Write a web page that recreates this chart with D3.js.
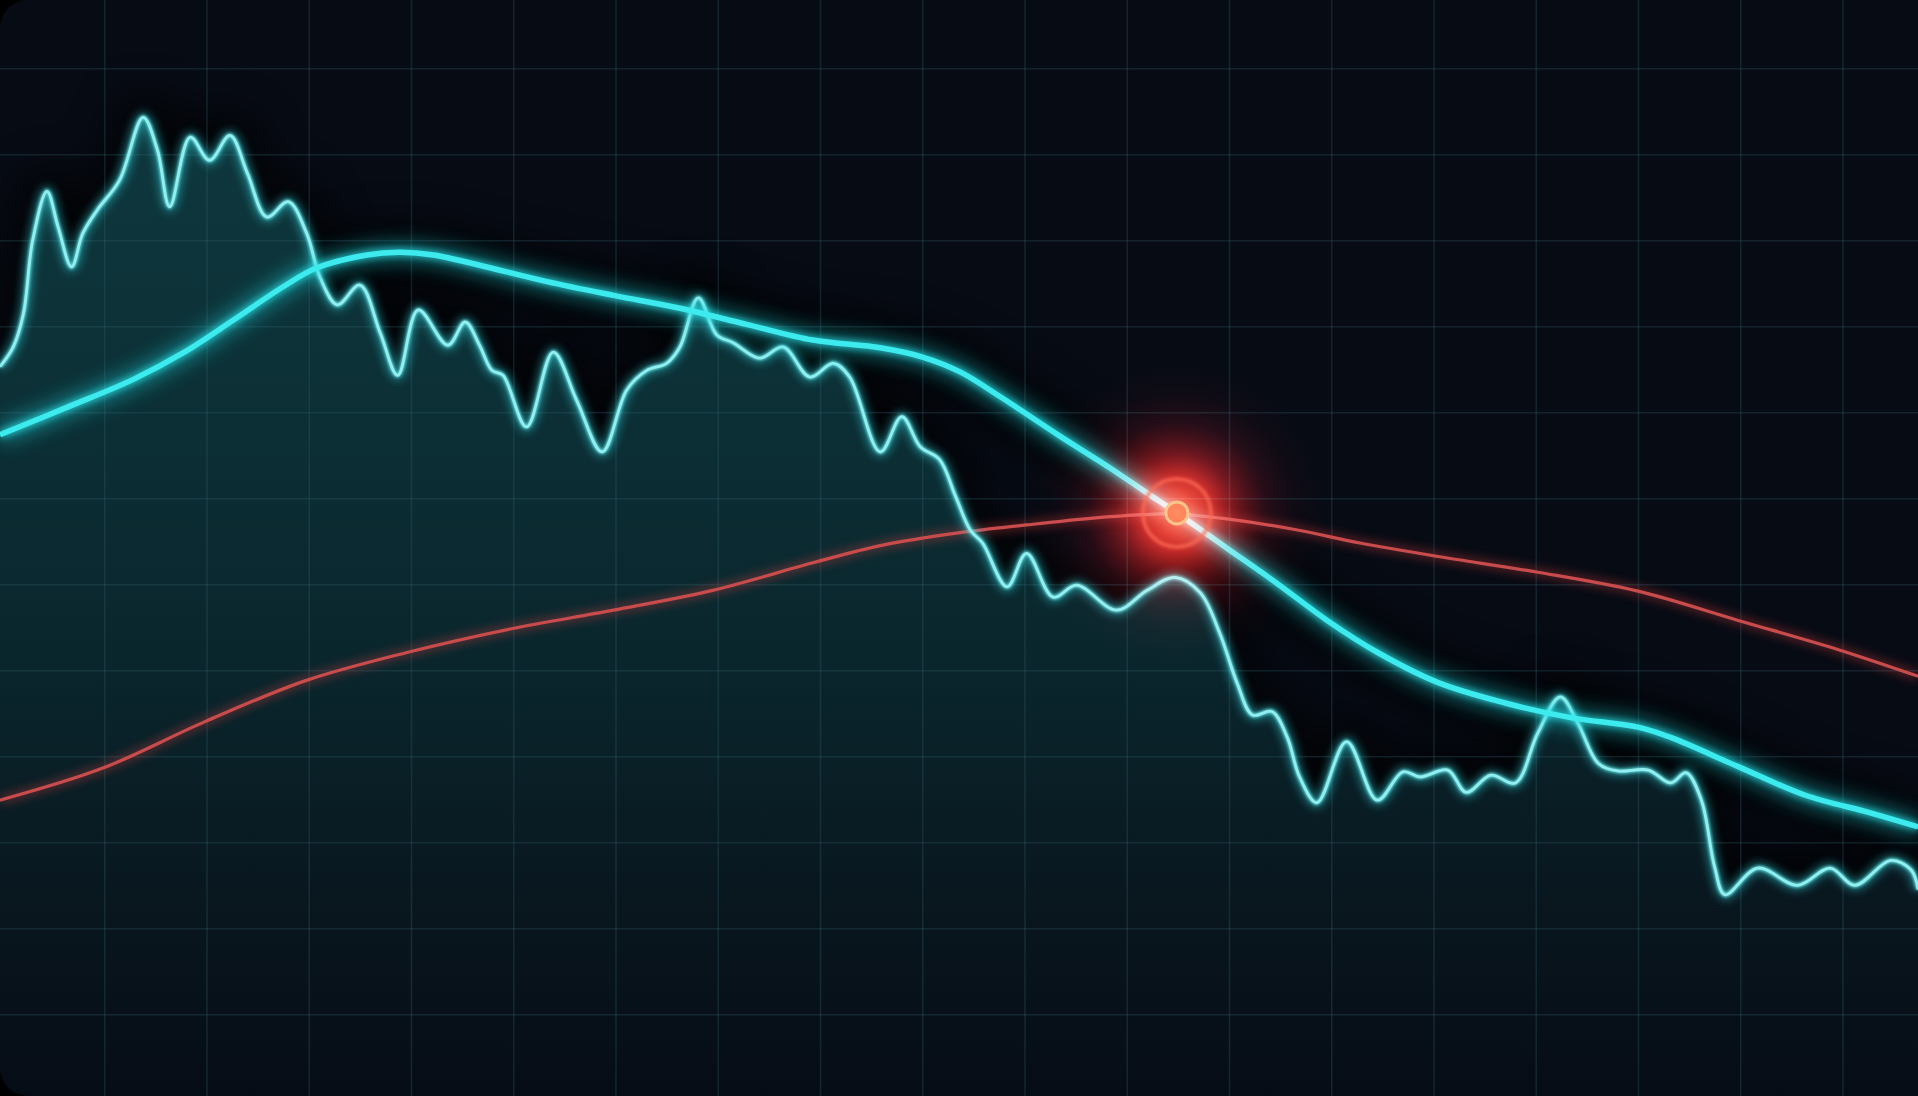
<!DOCTYPE html>
<html><head><meta charset="utf-8">
<script src="https://cdn.jsdelivr.net/npm/d3@7"></script>
<style>html,body{margin:0;padding:0;background:#000;overflow:hidden}svg{display:block}</style>
</head><body><svg id="chart" width="1918" height="1096"></svg>
<script>
// ---- data (x in time units, y in value units) ----
const jagT = [-0.2,1.1,2.1,3.0,4.4,5.5,6.8,7.9,9.3,11.5,13.8,15.2,16.4,18.4,20.3,22.3,24.0,25.9,28.0,29.8,31.1,32.8,35.0,37.0,38.7,40.7,43.6,45.3,46.7,47.9,49.0,51.3,53.9,56.2,58.7,61.1,63.1,65.0,66.3,68.1,69.9,71.5,74.1,76.4,79.0,81.3,82.9,85.9,88.0,89.8,91.7,93.2,94.7,95.9,98.3,100.2,102.8,105.1,109.0,112.0,114.7,117.2,119.1,120.8,122.3,124.2,125.7,126.9,128.6,131.5,134.5,137.0,138.7,141.4,143.2,145.6,148.0,150.2,152.4,154.1,156.1,158.0,161.0,163.2,164.7,166.2,167.5,168.5,171.7,175.6,178.8,181.2,184.7,186.7,187.4];
const jagV = [75.3,77.6,81.5,90.0,95.7,91.5,86.9,90.8,93.5,97.0,104.3,100.5,93.9,102.0,99.3,102.2,97.8,92.7,94.5,90.8,85.7,82.5,84.8,79.2,74.3,81.9,77.8,80.5,77.8,74.9,74.3,68.3,77.0,71.4,65.4,72.6,74.9,75.7,77.6,83.3,79.0,78.1,76.3,77.6,74.1,75.7,74.1,65.4,69.5,66.0,64.5,60.4,56.3,54.8,49.7,53.6,48.5,49.9,47.0,49.3,50.8,49.0,44.3,38.5,34.8,35.2,32.2,27.6,24.6,31.7,24.9,28.2,27.6,28.4,25.8,27.8,26.9,32.7,36.9,33.9,29.2,28.3,28.4,26.9,28.1,24.9,17.1,13.9,17.0,15.0,17.0,15.0,17.9,16.8,14.5];

const trendT = [-0.2,6.4,12.8,17.7,22.6,27.5,30.8,35.7,38.9,42.2,46.7,53.3,59.8,66.3,72.9,79.3,85.9,90.1,93.7,97.9,103.5,108.4,112.0,114.9,119.8,124.7,129.6,134.5,140.4,147.0,153.4,160.0,163.2,169.8,176.3,182.8,187.4];
const trendV = [67.4,70.6,73.8,76.9,80.7,84.6,86.8,88.3,88.6,88.3,87.1,85.2,83.6,82.1,80.2,78.4,77.5,76.4,74.7,71.6,67.2,63.5,60.6,58.3,54.2,50.1,45.8,42.1,38.6,36.2,34.5,33.4,32.2,28.8,25.5,23.4,21.8];

const redT = [-0.2,9.8,19.8,29.7,39.7,49.7,59.8,69.5,79.3,85.9,93.7,100.2,106.7,111.6,114.9,119.8,126.3,132.8,140.6,150.2,160.0,169.8,179.6,187.4];
const redV = [24.9,28.6,34.0,38.8,42.1,44.8,47.0,49.3,52.5,54.5,56.0,56.9,57.7,58.1,58.2,57.6,56.4,54.8,53.2,51.4,49.2,45.8,42.4,39.3];

const crossPoint = {t: 114.9, v: 58.3};
const xTicks = d3.range(10, 181, 10);
const yTicks = d3.range(0, 111, 10);

// ---- layout ----
const W = 1918, H = 1096;
const svg = d3.select('#chart');
const x = d3.scaleLinear().domain([0, 180]).range([2, 1842.5]);
const y = d3.scaleLinear().domain([0, 110]).range([1014.3, 68.3]);

const zip = (a, b) => a.map((t, i) => [t, b[i]]);
const jag = zip(jagT, jagV), trend = zip(trendT, trendV), red = zip(redT, redV);

const defs = svg.append('defs');
defs.append('clipPath').attr('id', 'frame').append('rect')
  .attr('x', 0).attr('y', 0).attr('width', W + 80).attr('height', H).attr('rx', 28);

function blur(id, sd) {
  defs.append('filter').attr('id', id).attr('filterUnits', 'userSpaceOnUse')
    .attr('x', -200).attr('y', -200).attr('width', W + 400).attr('height', H + 400)
    .append('feGaussianBlur').attr('stdDeviation', sd);
}
blur('halo', 22); blur('glowBig', 10); blur('glowMid', 5); blur('glowSmall', 3); blur('soft', 1.5);

const fillGrad = defs.append('linearGradient').attr('id', 'fillGrad')
  .attr('gradientUnits', 'userSpaceOnUse').attr('x1', 0).attr('x2', 0).attr('y1', 100).attr('y2', H);
[[0, '#0e383e'], [0.3, '#0c3036'], [0.58, '#0a252c'], [0.8, '#09171f'], [1, '#060c15']]
  .forEach(([o, c]) => fillGrad.append('stop').attr('offset', o).attr('stop-color', c));

const glowGrad = defs.append('radialGradient').attr('id', 'markGlow');
[[0, 'rgba(255,95,60,1)'], [0.1, 'rgba(255,75,50,0.95)'], [0.24, 'rgba(255,50,40,0.8)'],
 [0.4, 'rgba(225,30,30,0.48)'], [0.6, 'rgba(165,15,22,0.2)'], [0.8, 'rgba(110,8,16,0.07)'], [1, 'rgba(90,0,10,0)']]
  .forEach(([o, c]) => glowGrad.append('stop').attr('offset', o).attr('stop-color', c));

const root = svg.append('g').attr('clip-path', 'url(#frame)');
root.append('rect').attr('width', W).attr('height', H).attr('fill', '#070b14');

const curve = d3.curveCatmullRom.alpha(0.5);
const line = d3.line().x(d => x(d[0])).y(d => y(d[1])).curve(curve);
const area = d3.area().x(d => x(d[0])).y1(d => y(d[1])).y0(y(-12)).curve(curve);

// dark halos
root.append('path').attr('d', line(jag)).attr('fill', 'none').attr('stroke', '#000')
  .attr('stroke-width', 46).attr('opacity', 0.7).attr('filter', 'url(#halo)');
root.append('path').attr('d', line(trend)).attr('fill', 'none').attr('stroke', '#000')
  .attr('stroke-width', 50).attr('opacity', 0.75).attr('filter', 'url(#halo)');

// area fill
root.append('path').attr('d', area(jag)).attr('fill', 'url(#fillGrad)');

// grid via axes
const gridColor = 'rgba(55,100,114,0.28)';
root.append('g').attr('transform', `translate(0,${H})`)
  .call(d3.axisBottom(x).tickValues(xTicks).tickSize(-H).tickFormat(''))
  .call(g => g.select('.domain').remove())
  .selectAll('line').attr('stroke', gridColor).attr('stroke-width', 1.6);
root.append('g')
  .call(d3.axisLeft(y).tickValues(yTicks).tickSize(-W).tickFormat(''))
  .call(g => g.select('.domain').remove())
  .selectAll('line').attr('stroke', gridColor).attr('stroke-width', 1.6);

// red line
root.append('path').attr('d', line(red)).attr('fill', 'none').attr('stroke', '#e0403c')
  .attr('stroke-width', 9).attr('opacity', 0.35).attr('filter', 'url(#glowMid)');
root.append('path').attr('d', line(red)).attr('fill', 'none').attr('stroke', '#c94c4d')
  .attr('stroke-width', 3.2);

// jagged line
root.append('path').attr('d', line(jag)).attr('fill', 'none').attr('stroke', '#2fd3da')
  .attr('stroke-width', 10).attr('opacity', 0.5).attr('filter', 'url(#glowMid)');
root.append('path').attr('d', line(jag)).attr('fill', 'none').attr('stroke', '#62dfe2')
  .attr('stroke-width', 4.4).attr('filter', 'url(#soft)');
root.append('path').attr('d', line(jag)).attr('fill', 'none').attr('stroke', '#93eeef')
  .attr('stroke-width', 2.8);

// trend line
root.append('path').attr('d', line(trend)).attr('fill', 'none').attr('stroke', '#1ed8de')
  .attr('stroke-width', 18).attr('opacity', 0.5).attr('filter', 'url(#glowBig)');
root.append('path').attr('d', line(trend)).attr('fill', 'none').attr('stroke', '#27e3e8')
  .attr('stroke-width', 9).attr('opacity', 0.65).attr('filter', 'url(#glowSmall)');
root.append('path').attr('d', line(trend)).attr('fill', 'none').attr('stroke', '#3debef')
  .attr('stroke-width', 5.5);

// crossover marker
const cx = x(crossPoint.t), cy = y(crossPoint.v);
const mk = root.append('g');
mk.append('circle').attr('cx', cx).attr('cy', cy).attr('r', 34).attr('fill', 'none')
  .attr('stroke', 'rgba(255,80,60,0.8)').attr('stroke-width', 3.5).attr('filter', 'url(#soft)');
mk.append('circle').attr('cx', cx).attr('cy', cy).attr('r', 11).attr('fill', '#ee4a32')
  .attr('stroke', '#ffab6e').attr('stroke-width', 3);
root.append('circle').attr('cx', cx).attr('cy', cy).attr('r', 150)
  .attr('fill', 'url(#markGlow)').style('mix-blend-mode', 'screen');
</script></body></html>
